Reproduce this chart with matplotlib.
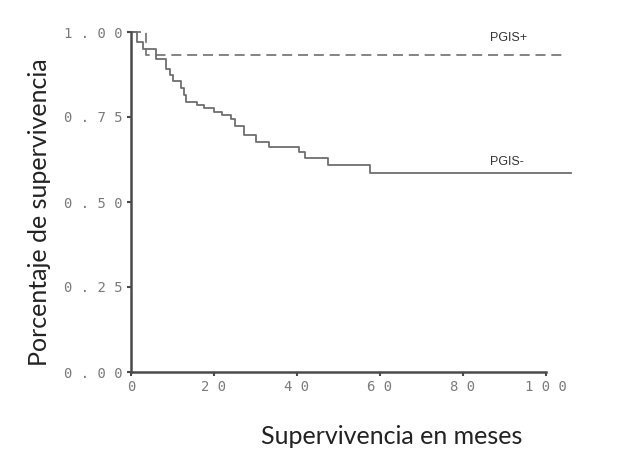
import matplotlib
matplotlib.use("Agg")
import matplotlib.pyplot as plt

# ---------- data ----------
# PGIS- : Kaplan-Meier steps (start month, survival)
neg_times = [0, 1.4, 2.9, 6.0, 8.4, 9.5, 10.0, 12.0, 12.8, 13.2, 16.0, 17.5,
             20.0, 22.0, 24.0, 25.0, 27.2, 30.0, 33.2, 40.4, 42.0, 47.4, 57.7, 106.0]
neg_surv = [1.0, 0.971, 0.949, 0.92, 0.89, 0.875, 0.855, 0.835, 0.815, 0.795, 0.785, 0.776,
            0.765, 0.756, 0.745, 0.725, 0.697, 0.677, 0.663, 0.647, 0.629, 0.609, 0.584, 0.584]

# PGIS+ : steps
pos_times = [0, 3.7, 104.0]
pos_surv = [1.0, 0.932, 0.932]

x_ticks = [0, 20, 40, 60, 80, 100]
y_ticks = [0.0, 0.25, 0.5, 0.75, 1.0]

_LINE = "#6e6e6e"
_AXIS = "#4a4a4a"
_TICKTXT = "#7a7a7a"


def _spaced(s):
    # SAS-style tick labels with wide letter spacing
    return " ".join(s)


fig = plt.figure(figsize=(6.17, 4.5), dpi=100)
ax = fig.add_axes((131 / 617, 1 - 372 / 450, 415 / 617, 340 / 450))

ax.step(neg_times, neg_surv, where="post", color=_LINE, lw=1.3, clip_on=False)
ax.step(pos_times, pos_surv, where="post", color=_LINE, lw=1.2,
        dashes=(6, 3.5), clip_on=False)

ax.text(86.5, 0.982, "PGIS+", fontsize=9, color="#333333", family="Liberation Sans",
        ha="left", va="center")
ax.text(86.5, 0.618, "PGIS-", fontsize=9, color="#333333", family="Liberation Sans",
        ha="left", va="center")

ax.set_xlim(0, 100)
ax.set_ylim(0, 1)
ax.set_xticks(x_ticks)
ax.set_xticklabels([_spaced(str(t)) for t in x_ticks])
ax.set_yticks(y_ticks)
ax.set_yticklabels([_spaced(f"{t:.2f}") for t in y_ticks])
ax.tick_params(length=3, width=1.5, color=_AXIS, labelcolor=_TICKTXT,
               labelsize=10, pad=3)
for lab in ax.get_xticklabels() + ax.get_yticklabels():
    lab.set_family("DejaVu Sans Mono")

for side in ("top", "right"):
    ax.spines[side].set_visible(False)
for side in ("left", "bottom"):
    ax.spines[side].set_color(_AXIS)
    ax.spines[side].set_linewidth(1.8)

fig.text(40 / 617, 1 - 212 / 450, "Porcentaje de supervivencia", rotation=90,
         fontsize=18, family="Lato", color="#222222", ha="center", va="center")
fig.text(392 / 617, 1 - 437 / 450, "Supervivencia en meses",
         fontsize=18, family="Lato", color="#222222", ha="center", va="center")

fig.savefig("out.png", dpi=100, facecolor="white")
